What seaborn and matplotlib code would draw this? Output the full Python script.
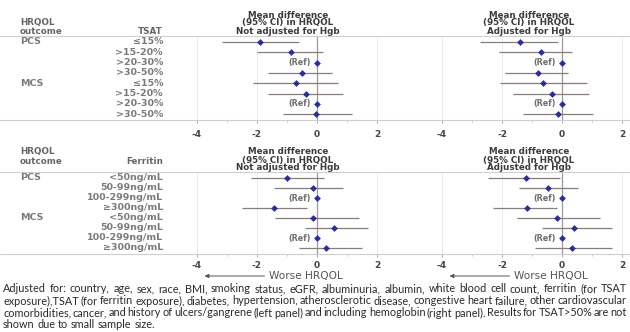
import numpy as np
import pandas as pd
import seaborn as sns
import matplotlib.pyplot as plt
from matplotlib.lines import Line2D

# -----------------------------
# Data
# -----------------------------
outcomes = ["PCS", "MCS"]
tsat_cats = ["≤15%", ">15-20%", ">20-30%", ">30-50%"]
ferritin_cats = ["<50ng/mL", "50-99ng/mL", "100-299ng/mL", "≥300ng/mL"]

# TSAT, not adjusted for Hgb (PCS rows then MCS rows)
tsat_unadj_est = [-1.90, -0.87, 0.0, -0.50, -0.70, -0.37, 0.0, -0.02]
tsat_unadj_lo = [-3.17, -2.00, np.nan, -1.63, -2.13, -1.63, np.nan, -1.13]
tsat_unadj_hi = [-0.60, 0.20, np.nan, 0.50, 0.70, 0.87, np.nan, 1.17]

# TSAT, adjusted for Hgb
tsat_adj_est = [-1.40, -0.70, 0.0, -0.80, -0.63, -0.33, 0.0, -0.13]
tsat_adj_lo = [-2.73, -2.10, np.nan, -1.90, -2.07, -1.63, np.nan, -1.30]
tsat_adj_hi = [-0.13, 0.33, np.nan, 0.20, 0.83, 0.90, np.nan, 1.03]

# Ferritin, not adjusted for Hgb
ferr_unadj_est = [-1.00, -0.15, 0.0, -1.45, -0.15, 0.55, 0.0, 0.30]
ferr_unadj_lo = [-2.20, -1.45, np.nan, -2.50, -1.40, -0.40, np.nan, -0.60]
ferr_unadj_hi = [0.22, 0.85, np.nan, -0.35, 1.40, 1.70, np.nan, 1.50]

# Ferritin, adjusted for Hgb
ferr_adj_est = [-1.20, -0.47, 0.0, -1.17, -0.17, 0.40, 0.0, 0.33]
ferr_adj_lo = [-2.47, -1.43, np.nan, -2.30, -1.50, -0.67, np.nan, -0.90]
ferr_adj_hi = [-0.07, 0.53, np.nan, -0.17, 1.27, 1.67, np.nan, 1.67]

x_ticks = [-4, -2, 0, 2]
title_unadj = ["Mean difference", "(95% CI) in HRQOL", "Not adjusted for Hgb"]
title_adj = ["Mean difference", "(95% CI) in HRQOL", "Adjusted for Hgb"]
arrow_label = "Worse HRQOL"

footnote = [
    "Adjusted for: country, age, sex, race, BMI, smoking status, eGFR, albuminuria, albumin, white blood cell count, ferritin (for TSAT",
    "exposure),TSAT (for ferritin exposure), diabetes, hypertension, atherosclerotic disease, congestive heart failure, other cardiovascular",
    "comorbidities, cancer, and history of ulcers/gangrene (left panel) and including hemoglobin (right panel). Results for TSAT>50% are not",
    "shown due to small sample size.",
]

# -----------------------------
# Style
# -----------------------------
sns.set_style('white')
plt.rcParams['font.family'] = ['DejaVu Sans']
plt.rcParams['axes.unicode_minus'] = False

W, H = 630, 332
fig = plt.figure(figsize=(W / 100, H / 100), dpi=100)
fig.patch.set_facecolor('white')

CI_COLOR = '#8a7d78'
PT_COLOR = '#2b2ba6'
TITLE_COLOR = '#3c3c3c'
LABEL_COLOR = '#7a7a7a'
TEXT_SIZE = 6.3
ROW_SIZE = 6.8


def fy(px):
    return 1 - px / H


def fx(px):
    return px / W


def hline(y_px, color='#cfcfcf', lw=0.8):
    fig.add_artist(Line2D([0, 1], [fy(y_px), fy(y_px)], transform=fig.transFigure,
                          color=color, lw=lw))


def make_frame(est, lo, hi):
    return pd.DataFrame({
        'row': np.arange(len(est)),
        'est': est,
        'lo': lo,
        'hi': hi,
    })


def draw_panel(ax, df, ylim, tick_pad, arrow_y_px=None):
    ax.set_facecolor('none')
    for s in ax.spines.values():
        s.set_visible(False)
    for t in x_ticks:
        if t != 0:
            ax.axvline(t, color='#ececec', lw=0.7, zorder=0)
    ax.axvline(0, color='#9a9a9a', lw=0.9, zorder=1)

    ci = df.dropna()
    ax.hlines(ci['row'], ci['lo'], ci['hi'], color=CI_COLOR, lw=0.9, zorder=2)
    sns.scatterplot(data=df, x='est', y='row', ax=ax, marker='D', s=12,
                    color=PT_COLOR, linewidth=0, legend=False, zorder=3)
    for r in df.loc[df['lo'].isna(), 'row']:
        ax.text(-0.22, r, "(Ref)", ha='right', va='center', fontsize=5.8,
                fontweight='bold', color='#6e6e6e')

    ax.set_ylim(*ylim)
    ax.set_yticks([])
    ax.set_xticks(x_ticks)
    ax.set_xticks([-3, -1, 1], minor=True)
    ax.tick_params(axis='x', which='major', bottom=True, length=2.5, width=0.6,
                   color='#9a9a9a', pad=tick_pad, labelsize=6.5, labelcolor='#444444')
    ax.tick_params(axis='x', which='minor', bottom=True, length=1.5, width=0.5,
                   color='#b0b0b0')
    for lab in ax.get_xticklabels():
        lab.set_fontweight('bold')
    ax.set_xlabel('')
    ax.set_ylabel('')

    if arrow_y_px is not None:
        ax.annotate('', xy=(-3.75, H - arrow_y_px), xytext=(-1.75, H - arrow_y_px),
                    xycoords=('data', 'figure pixels'), textcoords=('data', 'figure pixels'),
                    arrowprops=dict(arrowstyle='-|>', lw=0.7, color='#555555',
                                    mutation_scale=6, shrinkA=0, shrinkB=0))
        ax.annotate(arrow_label, xy=(-1.6, H - arrow_y_px),
                    xycoords=('data', 'figure pixels'), ha='left', va='center',
                    fontsize=7.6, color='#555555')


def draw_section(top_px, bottom_px, ylim, tick_pad, header_px, title_px, cat_name,
                 cats, unadj, adj, arrow_y_px=None):
    # header texts
    fig.text(fx(20), fy(header_px[0]), "HRQOL", ha='left', va='center',
             fontsize=TEXT_SIZE, fontweight='bold', color='#666666')
    fig.text(fx(20), fy(header_px[1]), "outcome", ha='left', va='center',
             fontsize=TEXT_SIZE, fontweight='bold', color='#666666')
    fig.text(fx(163), fy(header_px[1]), cat_name, ha='right', va='center',
             fontsize=TEXT_SIZE, fontweight='bold', color='#666666')
    for lines, cx in [(title_unadj, 288), (title_adj, 529)]:
        for line, ty in zip(lines, title_px):
            fig.text(fx(cx), fy(ty), line, ha='center', va='center',
                     fontsize=TEXT_SIZE, fontweight='bold', color=TITLE_COLOR)

    hline(top_px)
    hline(bottom_px)

    ax_l = fig.add_axes([fx(170), fy(bottom_px), fx(230), (bottom_px - top_px) / H])
    ax_r = fig.add_axes([fx(420), fy(bottom_px), fx(210), (bottom_px - top_px) / H])
    ax_l.set_xlim((170 - 317) / 30, (400 - 317) / 30)
    ax_r.set_xlim((420 - 562) / 30, (630 - 562) / 30)
    draw_panel(ax_l, make_frame(*unadj), ylim, tick_pad, arrow_y_px)
    draw_panel(ax_r, make_frame(*adj), ylim, tick_pad, arrow_y_px)

    # row labels (label column in figure coordinates, rows via left axes transform)
    labels = cats * len(outcomes)
    for i, lab in enumerate(labels):
        ax_l.annotate(lab, xy=(163, i), xycoords=('figure pixels', 'data'),
                      ha='right', va='center', fontsize=ROW_SIZE,
                      fontweight='bold', color=LABEL_COLOR, annotation_clip=False)
    for k, name in enumerate(outcomes):
        ax_l.annotate(name, xy=(20, k * len(cats)), xycoords=('figure pixels', 'data'),
                      ha='left', va='center', fontsize=ROW_SIZE,
                      fontweight='bold', color=LABEL_COLOR, annotation_clip=False)


# top: TSAT
draw_section(36, 120, (7.57, -0.58), 4.5, (22, 31), (15, 23, 31), "TSAT",
             tsat_cats,
             (tsat_unadj_est, tsat_unadj_lo, tsat_unadj_hi),
             (tsat_adj_est, tsat_adj_lo, tsat_adj_hi))

# bottom: Ferritin
draw_section(172, 254, (7.6, -0.6), 2.5, (152, 161), (152, 160, 168), "Ferritin",
             ferritin_cats,
             (ferr_unadj_est, ferr_unadj_lo, ferr_unadj_hi),
             (ferr_adj_est, ferr_adj_lo, ferr_adj_hi),
             arrow_y_px=276)

# -----------------------------
# Footnote (justified lines)
# -----------------------------
renderer = fig.canvas.get_renderer()
foot_kw = dict(family=['Lato', 'DejaVu Sans'], color='#2a2a2a')


def text_width(s, size):
    t = fig.text(0, 0, s, fontsize=size, **foot_kw)
    w = t.get_window_extent(renderer).width
    t.remove()
    return w


x0, x1 = 3, 627
base = text_width(footnote[0], 10)
foot_size = 10 * 605 / base
space_w = text_width("a b", foot_size) - text_width("ab", foot_size)

for i, line in enumerate(footnote):
    y = 289 + 12 * i
    words = line.split(' ')
    widths = [text_width(w, foot_size) for w in words]
    if i < len(footnote) - 1:
        gap = (x1 - x0 - sum(widths)) / (len(words) - 1)
    else:
        gap = space_w
    x = x0
    for w, wd in zip(words, widths):
        fig.text(fx(x), fy(y), w, ha='left', va='center', fontsize=foot_size, **foot_kw)
        x += wd + gap

fig.savefig('out.png', dpi=100)
